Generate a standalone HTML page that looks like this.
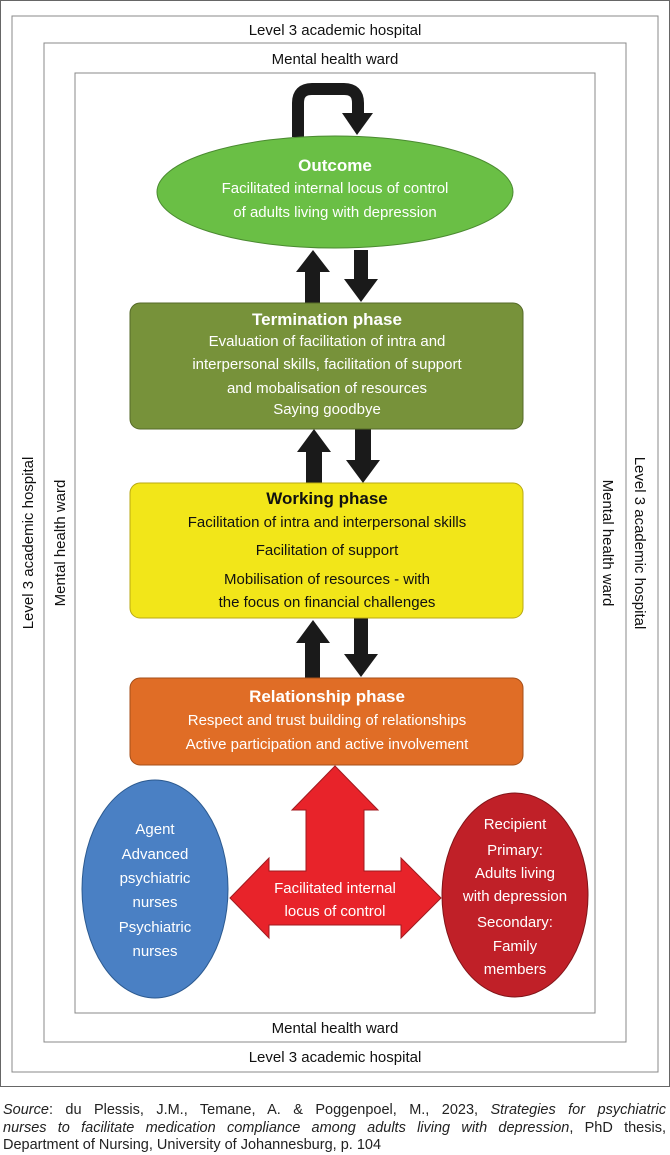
<!DOCTYPE html>
<html><head><meta charset="utf-8"><style>
html,body{margin:0;padding:0;background:#fff;}
svg{display:block;}
text{font-family:"Liberation Sans",sans-serif;}
.cap{position:absolute;left:3px;top:1102px;width:663px;font:14.5px/17.5px "Liberation Sans",sans-serif;color:#222;}
.cap div{text-align:justify;text-align-last:justify;white-space:nowrap;}
.cap div.l{text-align-last:left;}
</style></head><body>
<div style="position:relative;width:670px;height:1155px;overflow:hidden">
<svg width="670" height="1155" viewBox="0 0 670 1155">
<rect x="0.5" y="0.5" width="669" height="1086" fill="none" stroke="#666" stroke-width="1"/>
<rect x="12" y="16" width="646" height="1056" fill="none" stroke="#888" stroke-width="1"/>
<rect x="44" y="43" width="582" height="999" fill="none" stroke="#888" stroke-width="1"/>
<rect x="75" y="73" width="520" height="940" fill="none" stroke="#888" stroke-width="1"/>
<g font-size="15" fill="#111" text-anchor="middle">
<text x="335" y="35">Level 3 academic hospital</text>
<text x="335" y="64">Mental health ward</text>
<text x="335" y="1033">Mental health ward</text>
<text x="335" y="1062">Level 3 academic hospital</text>
<text transform="translate(33,543) rotate(-90)">Level 3 academic hospital</text>
<text transform="translate(65,543) rotate(-90)">Mental health ward</text>
<text transform="translate(603,543) rotate(90)">Mental health ward</text>
<text transform="translate(635,543) rotate(90)">Level 3 academic hospital</text>
</g>
<path d="M298,137 L298,103 Q298,89 312,89 L344,89 Q358,89 358,103 L358,113" fill="none" stroke="#1a1a1a" stroke-width="12"/>
<polygon points="342,113 373,113 357,135" fill="#1a1a1a"/>
<ellipse cx="335" cy="192" rx="178" ry="56" fill="#6abf45" stroke="#4a8a30" stroke-width="1"/>
<g fill="#fff" text-anchor="middle" font-size="15">
<text x="335" y="171" font-weight="bold" font-size="17">Outcome</text>
<text x="335" y="193">Facilitated internal locus of control</text>
<text x="335" y="217">of adults living with depression</text>
</g>
<g fill="#1a1a1a">
<polygon points="305,303 305,272 296,272 313,250 330,272 320,272 320,303"/>
<polygon points="354,250 368,250 368,279 378,279 361,302 344,279 354,279"/>
<polygon points="306,483 306,452 297,452 314,429 331,452 322,452 322,483"/>
<polygon points="355,429 371,429 371,460 380,460 363,483 346,460 355,460"/>
<polygon points="305,678 305,643 296,643 313,620 330,643 320,643 320,678"/>
<polygon points="354,618 368,618 368,654 378,654 361,677 344,654 354,654"/>
</g>
<rect x="130" y="303" width="393" height="126" rx="10" fill="#77923a" stroke="#556a28"/>
<g fill="#fff" text-anchor="middle" font-size="15">
<text x="327" y="325" font-weight="bold" font-size="17">Termination phase</text>
<text x="327" y="346">Evaluation of facilitation of intra and</text>
<text x="327" y="369">interpersonal skills, facilitation of support</text>
<text x="327" y="393">and mobalisation of resources</text>
<text x="327" y="414">Saying goodbye</text>
</g>
<rect x="130" y="483" width="393" height="135" rx="10" fill="#f2e619" stroke="#b9a914"/>
<g fill="#111" text-anchor="middle" font-size="15">
<text x="327" y="504" font-weight="bold" font-size="17">Working phase</text>
<text x="327" y="527">Facilitation of intra and interpersonal skills</text>
<text x="327" y="555">Facilitation of support</text>
<text x="327" y="584">Mobilisation of resources - with</text>
<text x="327" y="607">the focus on financial challenges</text>
</g>
<rect x="130" y="678" width="393" height="87" rx="10" fill="#e06d26" stroke="#a44e18"/>
<g fill="#fff" text-anchor="middle" font-size="15">
<text x="327" y="702" font-weight="bold" font-size="17">Relationship phase</text>
<text x="327" y="725">Respect and trust building of relationships</text>
<text x="327" y="749">Active participation and active involvement</text>
</g>
<polygon points="335,766 378,810 364,810 364,871 401,871 401,858 441,898 401,938 401,925 269,925 269,938 230,898 269,858 269,871 306,871 306,810 292,810" fill="#e8232a" stroke="#a01a1f" stroke-width="1"/>
<g fill="#fff" text-anchor="middle" font-size="15">
<text x="335" y="893">Facilitated internal</text>
<text x="335" y="916">locus of control</text>
</g>
<ellipse cx="155" cy="889" rx="73" ry="109" fill="#4a80c4" stroke="#2c5a90"/>
<g fill="#fff" text-anchor="middle" font-size="15">
<text x="155" y="834">Agent</text>
<text x="155" y="859">Advanced</text>
<text x="155" y="883">psychiatric</text>
<text x="155" y="907">nurses</text>
<text x="155" y="932">Psychiatric</text>
<text x="155" y="956">nurses</text>
</g>
<ellipse cx="515" cy="895" rx="73" ry="102" fill="#c02028" stroke="#801418"/>
<g fill="#fff" text-anchor="middle" font-size="15">
<text x="515" y="829">Recipient</text>
<text x="515" y="855">Primary:</text>
<text x="515" y="878">Adults living</text>
<text x="515" y="901">with depression</text>
<text x="515" y="927">Secondary:</text>
<text x="515" y="951">Family</text>
<text x="515" y="974">members</text>
</g>
</svg>
<div class="cap">
<div><i>Source</i>: du Plessis, J.M., Temane, A. &amp; Poggenpoel, M., 2023, <i>Strategies for psychiatric</i></div>
<div><i>nurses to facilitate medication compliance among adults living with depression</i>, PhD thesis,</div>
<div class="l">Department of Nursing, University of Johannesburg, p. 104</div>
</div>
</div>
</body></html>
